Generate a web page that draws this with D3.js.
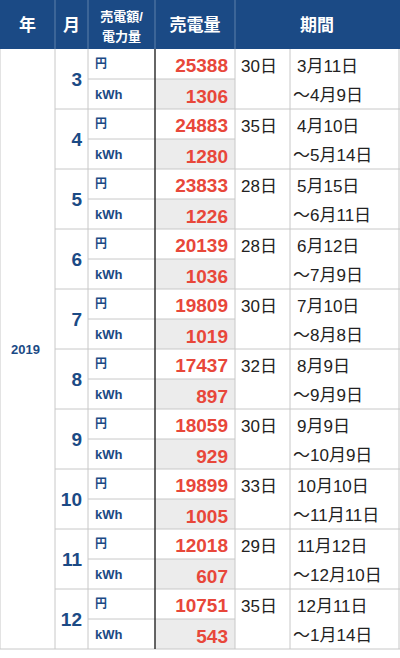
<!DOCTYPE html>
<html lang="ja">
<head>
<meta charset="UTF-8" />
<script src="https://d3js.org/d3.v7.min.js"></script>
<style>
  body { margin: 0; background: #fff; font-family: "Liberation Sans", "Noto Sans CJK JP", sans-serif; }
</style>
</head>
<body>
<svg id="chart" width="400" height="658"></svg>
<script>
const year = "2019";
const months = [3, 4, 5, 6, 7, 8, 9, 10, 11, 12];
const yen = [25388, 24883, 23833, 20139, 19809, 17437, 18059, 19899, 12018, 10751];
const kwh = [1306, 1280, 1226, 1036, 1019, 897, 929, 1005, 607, 543];
const days = [30, 35, 28, 28, 30, 32, 30, 33, 29, 35];
const periodFrom = ["3月11日", "4月10日", "5月15日", "6月12日", "7月10日", "8月9日", "9月9日", "10月10日", "11月12日", "12月11日"];
const periodTo = ["〜4月9日", "〜5月14日", "〜6月11日", "〜7月9日", "〜8月8日", "〜9月9日", "〜10月9日", "〜11月11日", "〜12月10日", "〜1月14日"];

const blue = "#1b4a85", red = "#e8473a", line = "#c8c8c8";
const cols = [0, 55, 88, 155, 235, 290, 399];
const headH = 49;
const svg = d3.select("#chart");
const y = d3.scaleBand().domain(months).range([headH, headH + 60 * months.length]);
const bottom = headH + 60 * months.length;

// header
svg.append("rect").attr("x", 0).attr("y", 0).attr("width", 400).attr("height", headH).attr("fill", blue);
const heads = [["年"], ["月"], ["売電額/", "電力量"], ["売電量"], null, ["期間"]];
heads.forEach((h, i) => {
  if (!h) return;
  const x0 = cols[i], x1 = i === 5 ? cols[6] : cols[i + 1];
  const cx = i === 5 ? (cols[4] + cols[6]) / 2 : (x0 + x1) / 2;
  h.forEach((t, j) => {
    svg.append("text").attr("x", cx).attr("y", h.length === 1 ? 31 : 21 + j * 20)
      .attr("text-anchor", "middle").attr("fill", "#fff").attr("font-weight", "bold")
      .attr("font-size", h.length === 1 ? 17 : 13).text(t);
  });
});
[1, 2, 3, 4].forEach(i => svg.append("line").attr("x1", cols[i]).attr("x2", cols[i]).attr("y1", 0).attr("y2", headH).attr("stroke", "#5f80aa"));

// gray kWh cells
svg.selectAll(".g").data(months).join("rect")
  .attr("x", cols[3]).attr("y", d => y(d) + 30).attr("width", cols[4] - cols[3]).attr("height", 30).attr("fill", "#ececec");

// grid
const g = svg.append("g").attr("stroke", line).attr("fill", "none");
months.forEach(m => {
  g.append("line").attr("x1", cols[1]).attr("x2", 400).attr("y1", y(m) + 60).attr("y2", y(m) + 60);
  g.append("line").attr("x1", cols[2]).attr("x2", cols[4]).attr("y1", y(m) + 30).attr("y2", y(m) + 30);
});
[0, 1, 2, 4, 5, 6].forEach(i => g.append("line").attr("x1", cols[i]).attr("x2", cols[i]).attr("y1", headH).attr("y2", bottom));
svg.append("line").attr("x1", 0).attr("x2", cols[1]).attr("y1", bottom).attr("y2", bottom).attr("stroke", line);
svg.append("line").attr("x1", cols[3]).attr("x2", cols[3]).attr("y1", headH).attr("y2", bottom).attr("stroke", "#333").attr("stroke-width", 1.5);

// year
svg.append("text").attr("x", cols[1] / 2 - 2).attr("y", (headH + bottom) / 2 + 5).attr("text-anchor", "middle")
  .attr("fill", blue).attr("font-weight", "bold").attr("font-size", 13).text(year);

const rows = svg.selectAll(".row").data(months).join("g").attr("transform", d => `translate(0,${y(d)})`);
rows.append("text").attr("x", cols[2] - 6).attr("y", 37).attr("text-anchor", "end")
  .attr("fill", blue).attr("font-weight", "bold").attr("font-size", 19).text(d => d);
rows.append("text").attr("x", cols[2] + 7).attr("y", 19).attr("fill", blue).attr("font-weight", "bold").attr("font-size", 12).text("円");
rows.append("text").attr("x", cols[2] + 7).attr("y", 50).attr("fill", blue).attr("font-weight", "bold").attr("font-size", 13).text("kWh");
rows.append("text").attr("x", cols[4] - 7).attr("y", 23).attr("text-anchor", "end").attr("fill", red).attr("font-weight", "bold").attr("font-size", 19).text((d, i) => yen[i]);
rows.append("text").attr("x", cols[4] - 7).attr("y", 54).attr("text-anchor", "end").attr("fill", red).attr("font-weight", "bold").attr("font-size", 19).text((d, i) => kwh[i]);
rows.append("text").attr("x", cols[4] + 6).attr("y", 23).attr("fill", "#222").attr("font-size", 17).text((d, i) => days[i] + "日");
rows.append("text").attr("x", cols[5] + 7).attr("y", 23).attr("fill", "#222").attr("font-size", 17).text((d, i) => periodFrom[i]);
rows.append("text").attr("x", cols[5] + 3).attr("y", 52).attr("fill", "#222").attr("font-size", 17).text((d, i) => periodTo[i]);
</script>
</body>
</html>
